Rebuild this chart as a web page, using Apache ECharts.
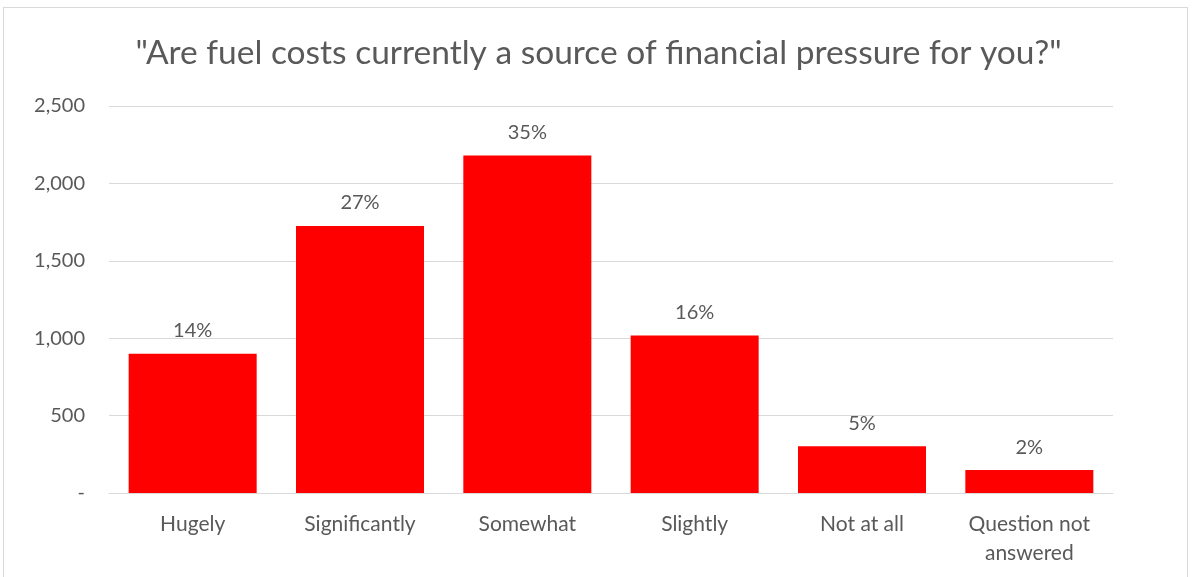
<!DOCTYPE html>
<html>
<head>
<meta charset="utf-8">
<script src="https://cdn.jsdelivr.net/npm/echarts@6/dist/echarts.min.js"></script>
<style>
    html, body { margin: 0; padding: 0; background: #fff; }
    #frame { position: absolute; left: 3px; top: 7px; width: 1185px; height: 580px; border: 1px solid #d9d9d9; box-sizing: border-box; }
    #chart { width: 1197px; height: 577px; }
</style>
</head>
<body>
<div id="frame"></div>
<div id="chart"></div>
<script>
// categories along the x axis
const categories = ['Hugely', 'Significantly', 'Somewhat', 'Slightly', 'Not at all', 'Question not\nanswered']
// respondents per answer
const counts = [900, 1725, 2180, 1018, 302, 148]
// share labels shown over the bars
const shares = ['14%', '27%', '35%', '16%', '5%', '2%']
// y axis ticks
const yTicks = [0, 500, 1000, 1500, 2000, 2500]

const textColor = '#595959'
const font = 'Lato, "Open Sans", sans-serif'

let option = {
    animation: false,
    title: {
        text: '"Are fuel costs currently a source of financial pressure for you?"',
        left: 'center',
        top: 31,
        textStyle: {
            color: textColor,
            fontFamily: font,
            fontWeight: 'normal',
            fontSize: 33.5
        }
    },
    grid: {
        left: 109,
        right: 84,
        top: 106,
        bottom: 84
    },
    xAxis: {
        type: 'category',
        data: categories,
        axisLine: { lineStyle: { color: '#d9d9d9', width: 1 } },
        axisTick: { show: false },
        axisLabel: {
            color: textColor,
            fontFamily: font,
            fontSize: 21,
            margin: 17,
            lineHeight: 29
        }
    },
    yAxis: {
        type: 'value',
        min: yTicks[0],
        max: yTicks[yTicks.length - 1],
        interval: 500,
        axisLine: { show: false },
        axisTick: { show: false },
        splitLine: { lineStyle: { color: '#d9d9d9', width: 1 } },
        axisLabel: {
            color: textColor,
            fontFamily: font,
            fontSize: 20,
            margin: 24,
            formatter: function (v) {
                return v === 0 ? '-' : v.toLocaleString('en-US')
            }
        }
    },
    series: [{
        type: 'bar',
        data: counts,
        barCategoryGap: '23.5%',
        itemStyle: { color: '#ff0000' },
        label: {
            show: true,
            position: 'top',
            distance: 13,
            color: textColor,
            fontFamily: font,
            fontSize: 20,
            formatter: function (p) {
                return shares[p.dataIndex]
            }
        }
    }]
}

let myChart = echarts.init(document.getElementById('chart'))
myChart.setOption(option)
</script>
</body>
</html>
